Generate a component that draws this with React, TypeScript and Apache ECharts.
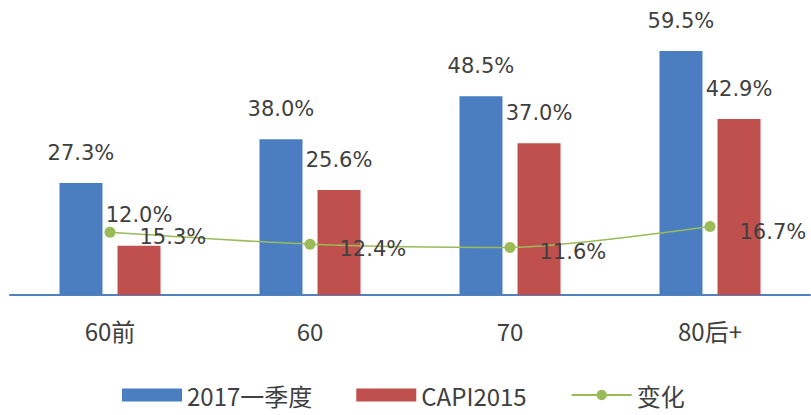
import React, { useEffect, useRef } from "react";
import * as echarts from "echarts";

const categories = ["60前", "60", "70", "80后+"];
const series2017 = [27.3, 38.0, 48.5, 59.5];
const seriesCapi = [12.0, 25.6, 37.0, 42.9];
const seriesChange = [15.3, 12.4, 11.6, 16.7];

export default function App() {
  const ref = useRef<HTMLDivElement>(null);
  useEffect(() => {
    if (!ref.current) return;
    const chart = echarts.init(ref.current, null, { renderer: "svg" });
    const labelColor = "#404040";
    const numFont = "DejaVu Sans";
    const fmt = (p: any) => p.value.toFixed(1) + "%";
    const barLabel = {
      show: true,
      position: "top",
      distance: 20,
      fontSize: 21,
      color: labelColor,
      fontFamily: numFont,
      formatter: fmt,
    };
    chart.setOption({
      animation: false,
      backgroundColor: "#ffffff",
      grid: { left: 10, right: 1, top: 49, bottom: 120 },
      legend: {
        top: 382,
        left: 122,
        padding: 0,
        itemWidth: 60,
        itemHeight: 13,
        itemGap: 44,
        textStyle: { fontSize: 24, lineHeight: 26, color: labelColor, fontFamily: "Noto Sans CJK SC" },
        data: [
          { name: "2017一季度", icon: "rect" },
          { name: "CAPI2015", icon: "rect" },
          { name: "变化" },
        ],
      },
      xAxis: {
        type: "category",
        data: categories,
        axisLine: { lineStyle: { color: "#4F81BD", width: 2 } },
        axisTick: { show: false },
        axisLabel: { fontSize: 24, color: labelColor, margin: 23, fontFamily: "Noto Sans CJK SC" },
      },
      yAxis: {
        type: "value",
        min: 0,
        max: 60,
        show: false,
        splitLine: { show: false },
      },
      series: [
        {
          name: "2017一季度",
          type: "bar",
          data: series2017,
          barWidth: 43,
          barGap: "35%",
          itemStyle: { color: "#4A7EC1" },
          label: barLabel,
        },
        {
          name: "CAPI2015",
          type: "bar",
          data: seriesCapi,
          barWidth: 43,
          itemStyle: { color: "#C0504D" },
          label: barLabel,
        },
        {
          name: "变化",
          type: "line",
          data: seriesChange,
          smooth: 0.25,
          symbol: "circle",
          symbolSize: 11,
          itemStyle: { color: "#9BBB59" },
          lineStyle: { color: "#9BBB59", width: 1.5 },
          label: {
            show: true,
            position: "right",
            distance: 24,
            offset: [0, 5],
            fontSize: 21,
            color: labelColor,
            fontFamily: numFont,
            formatter: fmt,
          },
        },
      ],
    });
    return () => chart.dispose();
  }, []);
  return <div ref={ref} style={{ width: 811, height: 415, position: "absolute", left: 0, top: 0 }} />;
}
